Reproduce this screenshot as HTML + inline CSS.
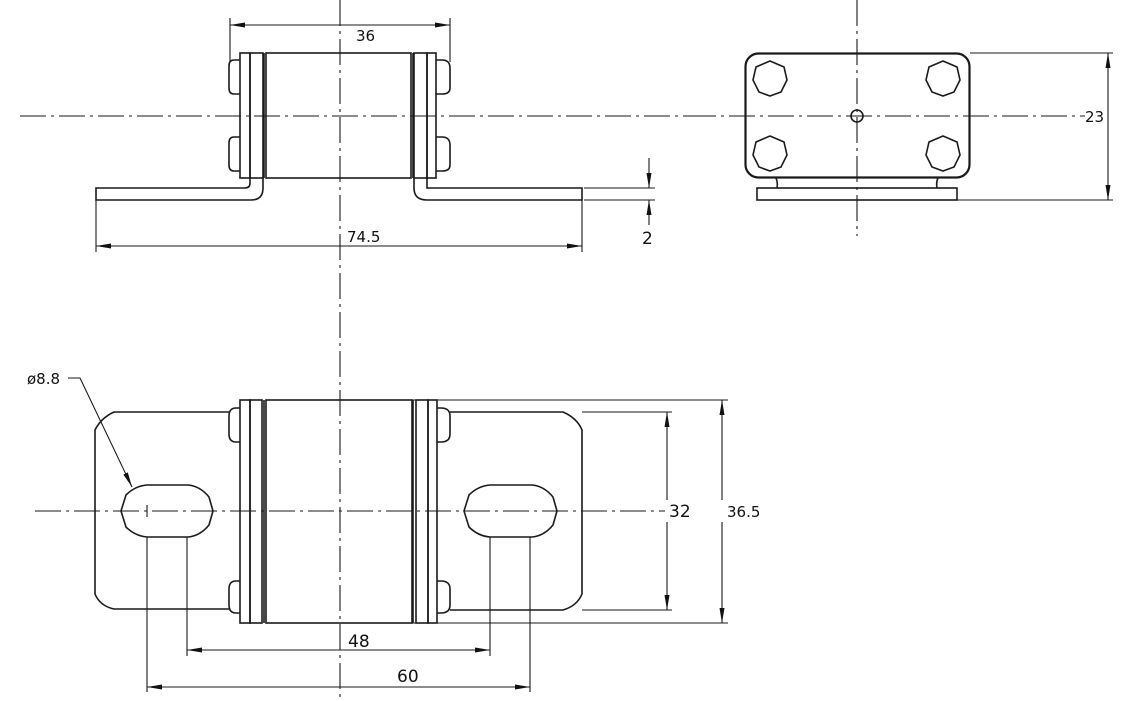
<!DOCTYPE html>
<html><head><meta charset="utf-8"><style>
html,body{margin:0;padding:0;background:#fff}
svg{display:block}
text{font-family:"DejaVu Sans","Liberation Sans",sans-serif;fill:#111}
</style></head><body>
<svg width="1131" height="701" viewBox="0 0 1131 701" xmlns="http://www.w3.org/2000/svg">
<defs>
<marker id="a" markerWidth="16" markerHeight="8" refX="15" refY="4" orient="auto-start-reverse" markerUnits="userSpaceOnUse">
<path d="M0,1.5 L15,4 L0,6.5 Z" fill="#111"/></marker>
</defs>
<g fill="none" stroke="#1a1a1a" stroke-width="1.6">
<g stroke-dasharray="26 5 3 5" stroke-width="1.1">
<line x1="340" y1="0" x2="340" y2="701"/>
<line x1="20" y1="116" x2="690" y2="116"/>
<line x1="690" y1="116" x2="1085" y2="116"/>
<line x1="857" y1="0" x2="857" y2="236"/>
<line x1="35" y1="511" x2="665" y2="511"/>
</g>

<!-- TOP VIEW -->
<rect x="266" y="53" width="145" height="125"/>
<rect x="240" y="53" width="10" height="125"/>
<rect x="250" y="53" width="13" height="125"/>
<line x1="264" y1="53" x2="264" y2="178"/>
<rect x="427" y="53" width="9" height="125"/>
<rect x="414" y="53" width="13" height="125"/>
<line x1="413" y1="53" x2="413" y2="178"/>
<path d="M240,60 h-6 q-5,0 -5,6 v22 q0,6 5,6 h6"/>
<path d="M240,137 h-6 q-5,0 -5,6 v22 q0,6 5,6 h6"/>
<path d="M436,60 h6 q8,0 8,8 v20 q0,6 -8,6 h-6"/>
<path d="M436,137 h6 q8,0 8,8 v20 q0,6 -8,6 h-6"/>
<path d="M250,178 v5 q0,5 -5,5 H96 v12 H251 q12,0 12,-12 v-10"/>
<path d="M427,178 v10 H582 v12 H427 q-13,0 -13,-12 v-10"/>
<line x1="230" y1="18" x2="230" y2="62" stroke-width="1.1"/>
<line x1="450" y1="18" x2="450" y2="62" stroke-width="1.1"/>
<line x1="230" y1="25" x2="450" y2="25" stroke-width="1.1" marker-start="url(#a)" marker-end="url(#a)"/>
<line x1="96" y1="200" x2="96" y2="252" stroke-width="1.1"/>
<line x1="582" y1="200" x2="582" y2="252" stroke-width="1.1"/>
<line x1="96" y1="246" x2="582" y2="246" stroke-width="1.1" marker-start="url(#a)" marker-end="url(#a)"/>
<line x1="584" y1="188" x2="655" y2="188" stroke-width="1.1"/>
<line x1="584" y1="200" x2="655" y2="200" stroke-width="1.1"/>
<line x1="649" y1="158" x2="649" y2="188" stroke-width="1.1" marker-end="url(#a)"/>
<line x1="649" y1="225" x2="649" y2="200" stroke-width="1.1" marker-end="url(#a)"/>

<!-- RIGHT VIEW -->
<rect x="745.5" y="53.5" width="224" height="124" rx="13" stroke-width="2.2"/>
<rect x="757" y="188" width="200" height="12"/>
<path d="M776,178 q2,4 1,10 M938,178 q-2,4 -1,10"/>
<polygon points="770,61 784,67 787,80 781,92 770,96 759,92 753,80 756,67"/>
<polygon points="943,61 957,67 960,80 954,92 943,96 932,92 926,80 929,67"/>
<polygon points="770,136 784,142 787,155 781,167 770,171 759,167 753,155 756,142"/>
<polygon points="943,136 957,142 960,155 954,167 943,171 932,167 926,155 929,142"/>
<circle cx="857" cy="116" r="6"/>
<line x1="970" y1="53" x2="1113" y2="53" stroke-width="1.1"/>
<line x1="957" y1="200" x2="1113" y2="200" stroke-width="1.1"/>
<line x1="1108" y1="53" x2="1108" y2="200" stroke-width="1.1" marker-start="url(#a)" marker-end="url(#a)"/>

<!-- BOTTOM VIEW -->
<rect x="266" y="400" width="146" height="223"/>
<rect x="240" y="400" width="10" height="223"/>
<rect x="250" y="400" width="12" height="223"/>
<line x1="264" y1="400" x2="264" y2="623"/>
<rect x="428" y="400" width="9" height="223"/>
<rect x="416" y="400" width="12" height="223"/>
<line x1="413" y1="400" x2="413" y2="623"/>
<path d="M240,408 h-4 q-7,0 -7,8 v18 q0,8 7,8 h4"/>
<path d="M240,581 h-4 q-7,0 -7,8 v16 q0,8 7,8 h4"/>
<path d="M437,408 h4 q9,0 9,8 v18 q0,8 -9,8 h-4"/>
<path d="M437,581 h4 q9,0 9,8 v16 q0,8 -9,8 h-4"/>
<path d="M229,412 H114 Q101,418 95,430 V594 Q100,606 114,609 H229"/>
<path d="M450,412 H563 Q577,418 582,430 V594 Q577,606 563,610 H450"/>
<path d="M147,485 H188 Q200,486 209,497 L213,511 L209,525 Q200,536 188,537 H147 Q135,536 126,527 L121,511 L126,495 Q135,486 147,485 Z"/>
<path d="M490,485 H532 Q544,486 553,497 L557,511 L553,525 Q544,536 532,537 H490 Q478,536 469,527 L464,511 L469,495 Q478,486 490,485 Z"/>
<line x1="147" y1="505" x2="147" y2="517" stroke-width="1.1"/>
<line x1="582" y1="412" x2="672" y2="412" stroke-width="1.1"/>
<line x1="582" y1="610" x2="672" y2="610" stroke-width="1.1"/>
<line x1="667" y1="412" x2="667" y2="500" stroke-width="1.1" marker-start="url(#a)"/>
<line x1="667" y1="522" x2="667" y2="610" stroke-width="1.1" marker-end="url(#a)"/>
<line x1="412" y1="400" x2="728" y2="400" stroke-width="1.1"/>
<line x1="412" y1="623" x2="728" y2="623" stroke-width="1.1"/>
<line x1="722" y1="400" x2="722" y2="500" stroke-width="1.1" marker-start="url(#a)"/>
<line x1="722" y1="522" x2="722" y2="623" stroke-width="1.1" marker-end="url(#a)"/>
<line x1="187" y1="537" x2="187" y2="656" stroke-width="1.1"/>
<line x1="490" y1="537" x2="490" y2="656" stroke-width="1.1"/>
<line x1="187" y1="650" x2="490" y2="650" stroke-width="1.1" marker-start="url(#a)" marker-end="url(#a)"/>
<line x1="147" y1="537" x2="147" y2="692" stroke-width="1.1"/>
<line x1="530" y1="537" x2="530" y2="692" stroke-width="1.1"/>
<line x1="147" y1="687" x2="530" y2="687" stroke-width="1.1" marker-start="url(#a)" marker-end="url(#a)"/>
<polyline points="68,378 80,378 132,487" stroke-width="1.1" marker-end="url(#a)"/>
</g>
<text x="356" y="41" font-size="15">36</text>
<text x="347" y="242" font-size="15">74.5</text>
<text x="642" y="244" font-size="17">2</text>
<text x="1085" y="122" font-size="15">23</text>
<text x="27" y="384" font-size="15">ø8.8</text>
<text x="669" y="517" font-size="17">32</text>
<text x="727" y="517" font-size="15">36.5</text>
<text x="348" y="647" font-size="17">48</text>
<text x="397" y="682" font-size="17">60</text>
</svg>
</body></html>
